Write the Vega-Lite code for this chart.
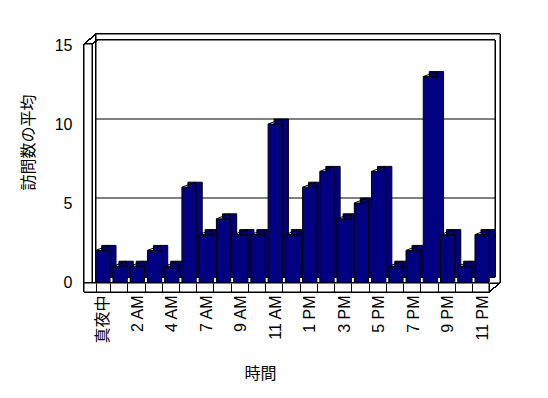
{
  "$schema": "https://vega.github.io/schema/vega-lite/v6.json",
  "width": 417,
  "height": 237,
  "autosize": {"type": "none"},
  "padding": {"left": 84, "top": 45, "right": 47, "bottom": 116},
  "background": "white",
  "config": {"view": {"stroke": null}, "font": "Liberation Sans, Noto Sans CJK JP"},
  "data": {"values": [
    {"hour": "真夜中", "visits": 2},
    {"hour": "1 AM", "visits": 1},
    {"hour": "2 AM", "visits": 1},
    {"hour": "3 AM", "visits": 2},
    {"hour": "4 AM", "visits": 1},
    {"hour": "5 AM", "visits": 6},
    {"hour": "7 AM", "visits": 3},
    {"hour": "8 AM", "visits": 4},
    {"hour": "9 AM", "visits": 3},
    {"hour": "10 AM", "visits": 3},
    {"hour": "11 AM", "visits": 10},
    {"hour": "正午", "visits": 3},
    {"hour": "1 PM", "visits": 6},
    {"hour": "2 PM", "visits": 7},
    {"hour": "3 PM", "visits": 4},
    {"hour": "4 PM", "visits": 5},
    {"hour": "5 PM", "visits": 7},
    {"hour": "6 PM", "visits": 1},
    {"hour": "7 PM", "visits": 2},
    {"hour": "8 PM", "visits": 13},
    {"hour": "9 PM", "visits": 3},
    {"hour": "10 PM", "visits": 1},
    {"hour": "11 PM", "visits": 3}
  ]},
  "resolve": {"scale": {"x": "independent"}, "axis": {"x": "independent"}},
  "layer": [
    {
      "mark": {"type": "rect", "fill": "white", "stroke": "black", "strokeWidth": 1, "xOffset": 12, "x2Offset": -1, "yOffset": 1, "y2Offset": -11},
      "encoding": {
        "x": {"datum": 0, "type": "quantitative", "scale": {"domain": [0, 1], "nice": false, "zero": false}, "axis": null},
        "x2": {"datum": 1},
        "y": {"datum": 0, "type": "quantitative", "scale": {"domain": [0, 15], "nice": false, "zero": true}},
        "y2": {"datum": 15}
      }
    },
    {
      "mark": {"type": "rect", "fill": "white", "stroke": "black", "strokeWidth": 1, "xOffset": 12, "x2Offset": -6, "yOffset": -5, "y2Offset": -5},
      "encoding": {
        "x": {"datum": 0, "type": "quantitative", "scale": {"domain": [0, 1], "nice": false, "zero": false}, "axis": null},
        "x2": {"datum": 1},
        "y": {"datum": 0, "type": "quantitative"},
        "y2": {"datum": 15}
      }
    },
    {
      "data": {"values": [{"v": 5}, {"v": 10}]},
      "mark": {"type": "rule", "color": "black", "strokeWidth": 1, "xOffset": 12, "x2Offset": -6, "yOffset": -5, "y2Offset": -5},
      "encoding": {
        "x": {"datum": 0, "type": "quantitative", "scale": {"domain": [0, 1], "nice": false, "zero": false}, "axis": null},
        "x2": {"datum": 1},
        "y": {"field": "v", "type": "quantitative"},
        "y2": {"field": "v"}
      }
    },
    {
      "mark": {"type": "rect", "fill": "white", "stroke": "black", "strokeWidth": 1, "xOffset": 0, "x2Offset": 8, "yOffset": 10, "y2Offset": -1},
      "encoding": {
        "x": {"datum": 0, "type": "quantitative", "scale": {"domain": [0, 1], "nice": false, "zero": false}, "axis": null},
        "x2": {"datum": 0},
        "y": {"datum": 0, "type": "quantitative"},
        "y2": {"datum": 15}
      }
    },
    {
      "mark": {"type": "rule", "color": "black", "strokeWidth": 1, "xOffset": 0, "x2Offset": 12, "yOffset": -1, "y2Offset": -11},
      "encoding": {
        "x": {"datum": 0, "type": "quantitative", "scale": {"domain": [0, 1], "nice": false, "zero": false}, "axis": null},
        "x2": {"datum": 0},
        "y": {"datum": 15, "type": "quantitative"},
        "y2": {"datum": 15}
      }
    },
    {
      "mark": {"type": "rule", "color": "black", "strokeWidth": 1, "xOffset": 8, "x2Offset": 14, "yOffset": -1, "y2Offset": -5},
      "encoding": {
        "x": {"datum": 0, "type": "quantitative", "scale": {"domain": [0, 1], "nice": false, "zero": false}, "axis": null},
        "x2": {"datum": 0},
        "y": {"datum": 15, "type": "quantitative"},
        "y2": {"datum": 15}
      }
    },
    {
      "mark": {"type": "rect", "fill": "white", "stroke": "black", "strokeWidth": 1, "xOffset": 0, "x2Offset": -12, "yOffset": 10, "y2Offset": 1},
      "encoding": {
        "x": {"datum": 0, "type": "quantitative", "scale": {"domain": [0, 1], "nice": false, "zero": false}, "axis": null},
        "x2": {"datum": 1},
        "y": {"datum": 0, "type": "quantitative"},
        "y2": {"datum": 0}
      }
    },
    {
      "mark": {"type": "rule", "color": "black", "strokeWidth": 1, "xOffset": -12, "x2Offset": -1, "yOffset": 10, "y2Offset": 1},
      "encoding": {
        "x": {"datum": 1, "type": "quantitative", "scale": {"domain": [0, 1], "nice": false, "zero": false}, "axis": null},
        "x2": {"datum": 1},
        "y": {"datum": 0, "type": "quantitative"},
        "y2": {"datum": 0}
      }
    },
    {
      "mark": {"type": "bar", "color": "#000080", "stroke": "black", "strokeWidth": 1, "xOffset": 6, "yOffset": -5},
      "encoding": {
        "x": {"field": "hour", "type": "nominal", "sort": null, "scale": {"paddingInner": 0.17, "paddingOuter": 0.68}, "axis": null},
        "y": {"field": "visits", "type": "quantitative"}
      }
    },
    {
      "mark": {"type": "rule", "color": "black", "strokeWidth": 1, "x2Offset": 6, "y2Offset": -5},
      "encoding": {
        "x": {"field": "hour", "type": "nominal", "sort": null, "bandPosition": 0, "scale": {"paddingInner": 0.17, "paddingOuter": 0.68}, "axis": null},
        "x2": {"field": "hour"},
        "y": {"field": "visits", "type": "quantitative"},
        "y2": {"field": "visits"}
      }
    },
    {
      "mark": {"type": "rule", "color": "black", "strokeWidth": 1, "x2Offset": 6, "y2Offset": -5},
      "encoding": {
        "x": {"field": "hour", "type": "nominal", "sort": null, "bandPosition": 1, "scale": {"paddingInner": 0.17, "paddingOuter": 0.68}, "axis": null},
        "x2": {"field": "hour"},
        "y": {"field": "visits", "type": "quantitative"},
        "y2": {"field": "visits"}
      }
    },
    {
      "mark": {"type": "bar", "color": "#000080", "stroke": "black", "strokeWidth": 1},
      "encoding": {
        "x": {"field": "hour", "type": "nominal", "sort": null, "scale": {"paddingInner": 0.17, "paddingOuter": 0.68},
          "axis": {
            "zindex": 1,
            "title": "時間", "titleFontSize": 16, "titleFontWeight": "normal", "titleColor": "black",
            "titleX": 176, "titleY": 81, "titleAlign": "center", "titleBaseline": "middle",
            "labelAngle": -90, "labelAlign": "right", "labelBaseline": "middle", "labelFontSize": 16, "labelColor": "black",
            "labelPadding": 12, "offset": 10, "tickSize": -9, "tickBand": "extent", "tickColor": "black", "domain": false,
            "labelExpr": "indexof(['真夜中','2 AM','4 AM','7 AM','9 AM','11 AM','1 PM','3 PM','5 PM','7 PM','9 PM','11 PM'], datum.value) >= 0 ? datum.value : ''"
          }
        },
        "y": {"field": "visits", "type": "quantitative",
          "axis": {
            "title": "訪問数の平均", "titleFontSize": 16, "titleFontWeight": "normal", "titleColor": "black",
            "titleX": -56, "titleY": 97, "titleAlign": "center", "titleBaseline": "middle", "titleAngle": -90,
            "values": [0, 5, 10, 15], "grid": false, "ticks": false, "domain": false,
            "labelPadding": 12, "labelFontSize": 16, "labelColor": "black"
          }
        }
      }
    }
  ]
}
